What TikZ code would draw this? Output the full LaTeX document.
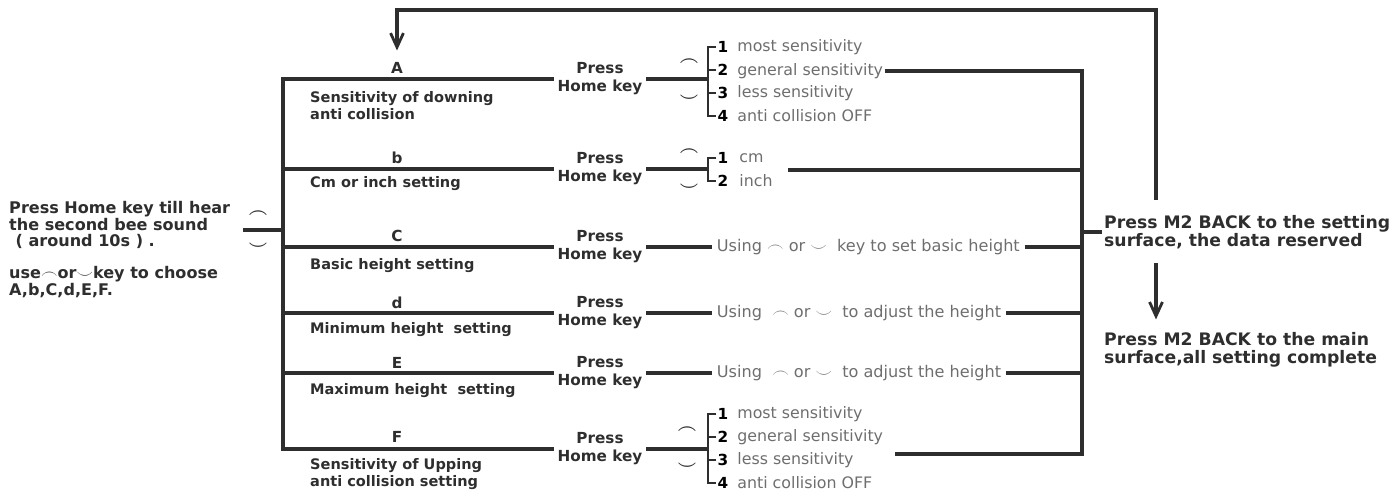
\documentclass[tikz,border=0pt]{standalone}
\usepackage{fontspec}
\setmainfont{DejaVu Sans}
\usetikzlibrary{arrows.meta}
\definecolor{ink}{HTML}{2E2E2E}
\definecolor{soft}{HTML}{6E6E6E}
\tikzstyle{wire}=[draw=ink, line width=2.8pt]
\tikzstyle{thin wire}=[draw=ink, line width=2.1pt]
\tikzstyle{heading}=[font=\bfseries\fontsize{13}{15}\selectfont, text=ink, inner sep=1pt]
\tikzstyle{desc}=[font=\bfseries\fontsize{12.4}{14.5}\selectfont, text=ink, align=left, anchor=west, inner sep=0pt]
\tikzstyle{press}=[font=\bfseries\fontsize{13}{15.4}\selectfont, text=ink, align=center, inner sep=3pt]
\tikzstyle{number}=[font=\bfseries\fontsize{13}{15}\selectfont, text=black, inner sep=1pt]
\tikzstyle{option}=[font=\fontsize{13.5}{15}\selectfont, text=soft, anchor=west, inner sep=1pt]
\tikzstyle{hint}=[font=\fontsize{13.75}{15}\selectfont, text=soft, anchor=west, inner sep=4pt]
\tikzstyle{note}=[font=\bfseries\fontsize{13.7}{14.1}\selectfont, text=ink, align=left, anchor=west, inner sep=0pt]
\tikzstyle{backnote}=[font=\bfseries\fontsize{14.7}{15.5}\selectfont, text=ink, align=left, anchor=west, inner sep=0pt]
\tikzstyle{keysign}=[font=\Large\boldmath, text=ink, inner sep=0pt]
\tikzstyle{flow}=[wire, -{Straight Barb[length=12pt, width=11pt, line width=2.4pt]}]

\begin{document}
\begin{tikzpicture}[x=0.03cm, y=-0.03cm]
  \useasboundingbox (0,0) rectangle (1396,493);

  % left note
  \node[note] (intro) at (9,225) {Press Home key till hear\\the second bee sound\\\hspace{0.4em}( around 10s ) .};
  \node[note] (choose) at (9,282) {use$\frown$or$\smile$key to choose\\A,b,C,d,E,F.};
  \node[keysign] (upL) at (258,214) {$\frown$};
  \node[keysign] (downL) at (258,246) {$\smile$};
  \coordinate (stub) at (243,230);

  % menu items on the left spine
  \coordinate (A0) at (283,79);
  \coordinate (B0) at (283,169);
  \coordinate (C0) at (283,247);
  \coordinate (D0) at (283,313);
  \coordinate (E0) at (283,373);
  \coordinate (F0) at (283,449);

  \node[heading] (lA) at (397,68) {A};
  \node[heading] (lB) at (397,158) {b};
  \node[heading] (lC) at (397,236) {C};
  \node[heading] (lD) at (397,303) {d};
  \node[heading] (lE) at (397,363) {E};
  \node[heading] (lF) at (397,437) {F};

  \node[desc] (dA) at (310,105.5) {Sensitivity of downing\\anti collision};
  \node[desc] (dB) at (310,184) {Cm or inch setting};
  \node[desc] (dC) at (310,266) {Basic height setting};
  \node[desc] (dD) at (310,330) {Minimum height\ \ setting};
  \node[desc] (dE) at (310,391) {Maximum height\ \ setting};
  \node[desc] (dF) at (310,474.5) {Sensitivity of Upping\\anti collision setting};

  \node[press] (pA) at (600,79) {Press\\Home key};
  \node[press] (pB) at (600,169) {Press\\Home key};
  \node[press] (pC) at (600,247) {Press\\Home key};
  \node[press] (pD) at (600,313) {Press\\Home key};
  \node[press] (pE) at (600,373) {Press\\Home key};
  \node[press] (pF) at (600,449) {Press\\Home key};

  \draw[wire] (stub) -- (stub -| A0);
  \draw[wire] (pA) -- (A0) -- (F0) -- (pF);
  \draw[wire] (B0) -- (pB);
  \draw[wire] (C0) -- (pC);
  \draw[wire] (D0) -- (pD);
  \draw[wire] (E0) -- (pE);

  % A: four choices
  \coordinate (kA) at (708,79);
  \node[number] (nA1) at (723,47) {1};
  \node[number] (nA2) at (723,70) {2};
  \node[number] (nA3) at (723,93) {3};
  \node[number] (nA4) at (723,116) {4};
  \node[option] (tA1) at (736,47) {most sensitivity};
  \node[option] (tA2) at (736,71) {general sensitivity};
  \node[option] (tA3) at (736,93) {less sensitivity};
  \node[option] (tA4) at (736,116) {anti collision OFF};
  \node[keysign] (upA) at (689,62) {$\frown$};
  \node[keysign] (downA) at (689,98) {$\smile$};
  \draw[wire] (pA) -- (kA);
  \draw[thin wire] (nA1.west) -| (kA) |- (nA4.west);
  \draw[thin wire] (nA2.west) -- (nA2.west -| kA);
  \draw[thin wire] (nA3.west) -- (nA3.west -| kA);

  % b: two choices
  \coordinate (kB) at (708,169);
  \node[number] (nB1) at (723,158) {1};
  \node[number] (nB2) at (723,181) {2};
  \node[option] (tB1) at (738,158) {cm};
  \node[option] (tB2) at (738,181) {inch};
  \node[keysign] (upB) at (689,152) {$\frown$};
  \node[keysign] (downB) at (689,187) {$\smile$};
  \draw[wire] (pB) -- (kB);
  \draw[thin wire] (nB1.west) -| (kB) |- (nB2.west);
  \coordinate (bEnd) at (788,170);

  % C, d, E: set the height
  \node[hint] (uC) at (712,247) {Using $\frown$ or $\smile$\ \ key to set basic height};
  \node[hint] (uD) at (712,313) {Using\ \ $\frown$ or $\smile$\ \ to adjust the height};
  \node[hint] (uE) at (712,373) {Using\ \ $\frown$ or $\smile$\ \ to adjust the height};
  \draw[wire] (pC) -- (uC);
  \draw[wire] (pD) -- (uD);
  \draw[wire] (pE) -- (uE);

  % F: four choices
  \coordinate (kF) at (708,449);
  \node[number] (nF1) at (723,414) {1};
  \node[number] (nF2) at (723,437) {2};
  \node[number] (nF3) at (723,460) {3};
  \node[number] (nF4) at (723,483) {4};
  \node[option] (tF1) at (736,414) {most sensitivity};
  \node[option] (tF2) at (736,437) {general sensitivity};
  \node[option] (tF3) at (736,460) {less sensitivity};
  \node[option] (tF4) at (736,483) {anti collision OFF};
  \node[keysign] (upF) at (687,430) {$\frown$};
  \node[keysign] (downF) at (687,466) {$\smile$};
  \draw[wire] (pF) -- (kF);
  \draw[thin wire] (nF1.west) -| (kF) |- (nF4.west);
  \draw[thin wire] (nF2.west) -- (nF2.west -| kF);
  \draw[thin wire] (nF3.west) -- (nF3.west -| kF);
  \coordinate (fEnd) at (895,454);

  % right spine and the way back
  \coordinate (rs) at (1082,0);
  \draw[wire] (tA2.east) -| (fEnd -| rs) -- (fEnd);
  \draw[wire] (bEnd) -- (bEnd -| rs);
  \draw[wire] (uC) -- (uC -| rs);
  \draw[wire] (uD) -- (uD -| rs);
  \draw[wire] (uE) -- (uE -| rs);

  \node[backnote] (back1) at (1104,232) {Press M2 BACK to the setting\\surface, the data reserved};
  \node[backnote] (back2) at (1104,350) {Press M2 BACK to the main\\surface,all setting complete};
  \draw[wire, shorten >=2pt] (back1.west -| rs) -- (back1.west);

  \coordinate (loopS) at (1156,200);
  \coordinate (loopT) at (397,10);
  \draw[flow, shorten >=9pt] (loopS) |- (loopT) -- (lA.north);
  \draw[flow, shorten <=12pt, shorten >=11pt] (back1.south -| loopS) -- (back2.north -| loopS);
\end{tikzpicture}
\end{document}
